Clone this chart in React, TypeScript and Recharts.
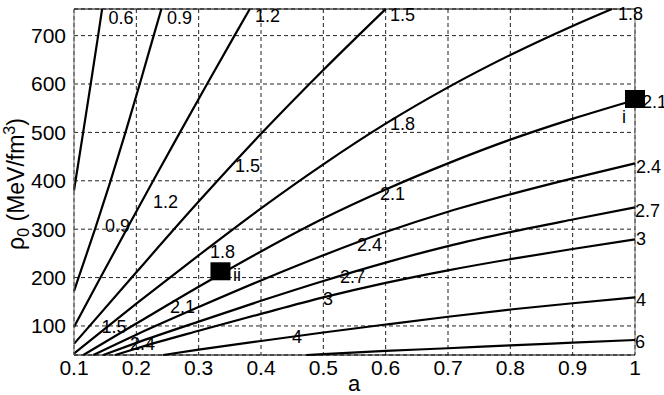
import { ComposedChart, Line, Scatter, XAxis, YAxis, CartesianGrid, ReferenceLine, ReferenceDot } from 'recharts'

const FONT = "'Liberation Sans', Arial, Helvetica, sans-serif"

const A_TICKS = [0.1, 0.2, 0.3, 0.4, 0.5, 0.6, 0.7, 0.8, 0.9, 1]
const RHO_TICKS = [100, 200, 300, 400, 500, 600, 700]

// contour lines as [a, rho0] pairs
const L06 = [[0.1, 380], [0.10245, 400], [0.1147, 500], [0.1268, 600], [0.1387, 700], [0.1451, 755]]
const L09 = [[0.1, 172], [0.1073, 200], [0.1337, 300], [0.1587, 400], [0.1826, 500], [0.2055, 600], [0.2278, 700], [0.2402, 755]]
const L12 = [[0.1, 98], [0.1425, 200], [0.1845, 300], [0.227, 400], [0.27, 500], [0.3135, 600], [0.3575, 700], [0.382, 755]]
const L15 = [[0.1, 63], [0.2, 211], [0.3, 357], [0.4, 497], [0.5, 629], [0.6, 755]]
const L18 = [[0.1, 43], [0.2, 146], [0.3, 246], [0.4, 343], [0.5, 434], [0.6, 518], [0.7, 593], [0.8, 660], [0.9, 720], [0.963, 755]]
const L21 = [[0.115, 40], [0.2, 105], [0.3, 181], [0.4, 254], [0.5, 322], [0.6, 382], [0.7, 436], [0.8, 485], [0.9, 528], [1, 567]]
const L24 = [[0.131, 40], [0.2, 82], [0.3, 139], [0.4, 194], [0.5, 246], [0.6, 294], [0.7, 336], [0.8, 372], [0.9, 405], [1, 436]]
const L27 = [[0.147, 40], [0.2, 65], [0.3, 109], [0.4, 152], [0.5, 193], [0.6, 231], [0.7, 265], [0.8, 294], [0.9, 320], [1, 345]]
const L3 = [[0.166, 40], [0.2, 53.5], [0.3, 90], [0.4, 125], [0.5, 159], [0.6, 189], [0.7, 215], [0.8, 238], [0.9, 259], [1, 279]]
const L4 = [[0.243, 40], [0.3, 51], [0.4, 69], [0.5, 86.5], [0.6, 103], [0.7, 119], [0.8, 134], [0.9, 147], [1, 159]]
const L6 = [[0.473, 40], [0.5, 42], [0.6, 48.5], [0.7, 54], [0.8, 60], [0.9, 65.5], [1, 71]]

const CONTOURS = [L06, L09, L12, L15, L18, L21, L24, L27, L3, L4, L6]

// contour labels: text, a, rho0 (left end of the baseline)
const LABELS: [string, number, number][] = [
  ['0.6', 0.1553, 725], ['0.9', 0.2492, 725], ['1.2', 0.3904, 728], ['1.5', 0.607, 731], ['1.8', 0.9728, 732],
  ['2.1', 1.0112, 550], ['2.4', 1.0016, 416], ['2.7', 1.0, 325], ['3', 1.0016, 267], ['4', 1.0016, 141], ['6', 1.0, 54.5],
  ['1.8', 0.3182, 240], ['1.5', 0.3583, 418], ['1.8', 0.607, 505], ['2.1', 0.591, 360], ['2.4', 0.554, 254],
  ['2.7', 0.5268, 189], ['3', 0.4995, 143], ['4', 0.4497, 65], ['1.2', 0.2267, 344], ['0.9', 0.1497, 295],
  ['1.5', 0.1441, 85.5], ['2.1', 0.254, 127], ['2.4', 0.1898, 50],
  ['i', 0.979, 519], ['ii', 0.355, 193],
]

const POINTS = [{ a: 1, rho: 569 }, { a: 0.335, rho: 213 }]

function YLabel() {
  return (
    <text x={24} y={184} transform="rotate(-90, 24, 184)" textAnchor="middle" fontSize={23} fontFamily={FONT} fill="#000">
      ρ<tspan fontSize={16} dy={5}>0</tspan>
      <tspan dy={-5}> (MeV/fm</tspan>
      <tspan fontSize={16} dy={-9}>3</tspan>
      <tspan dy={9}>)</tspan>
    </text>
  )
}

function XLabel() {
  return (
    <text x={354} y={391} textAnchor="middle" fontSize={22} fontFamily={FONT} fill="#000">a</text>
  )
}

export default function App() {
  const tick = { fontSize: 21, fill: '#000', fontFamily: FONT }
  return (
    <div style={{ position: 'absolute', left: 0, top: 0, width: 664, height: 395, background: '#fff' }}>
      <ComposedChart width={664} height={395} margin={{ top: 9, right: 29, bottom: 0, left: 0 }}>
        <CartesianGrid stroke="#222" strokeDasharray="4 3" />
        <XAxis
          type="number"
          dataKey="a"
          domain={[0.1, 1]}
          ticks={A_TICKS}
          height={40}
          tick={tick}
          tickLine={false}
          tickSize={4}
          tickMargin={1}
          axisLine={{ stroke: '#000' }}
          label={<XLabel />}
        />
        <YAxis
          type="number"
          dataKey="rho"
          domain={[40, 755]}
          ticks={RHO_TICKS}
          width={74}
          tick={tick}
          tickLine={false}
          axisLine={{ stroke: '#666' }}
          label={<YLabel />}
        />
        <ReferenceLine y={755} stroke="#000" />
        <ReferenceLine x={1} stroke="#666" />
        {CONTOURS.map((c, i) => (
          <Line
            key={i}
            data={c.map(([a, rho]) => ({ a, rho }))}
            dataKey="rho"
            type="monotone"
            stroke="#000"
            strokeWidth={2.2}
            dot={false}
            activeDot={false}
            isAnimationActive={false}
          />
        ))}
        <Scatter
          data={POINTS}
          dataKey="rho"
          isAnimationActive={false}
          shape={(p: any) => <rect x={p.cx - 10} y={p.cy - 9} width={20} height={18} fill="#000" />}
        />
        {LABELS.map(([t, a, rho], i) => (
          <ReferenceDot
            key={'l' + i}
            x={a}
            y={rho}
            r={0}
            ifOverflow="visible"
            shape={(p: any) => (
              <text x={p.cx} y={p.cy} fontSize={18} fontFamily={FONT} fill="#000">{t}</text>
            )}
          />
        ))}
      </ComposedChart>
    </div>
  )
}
